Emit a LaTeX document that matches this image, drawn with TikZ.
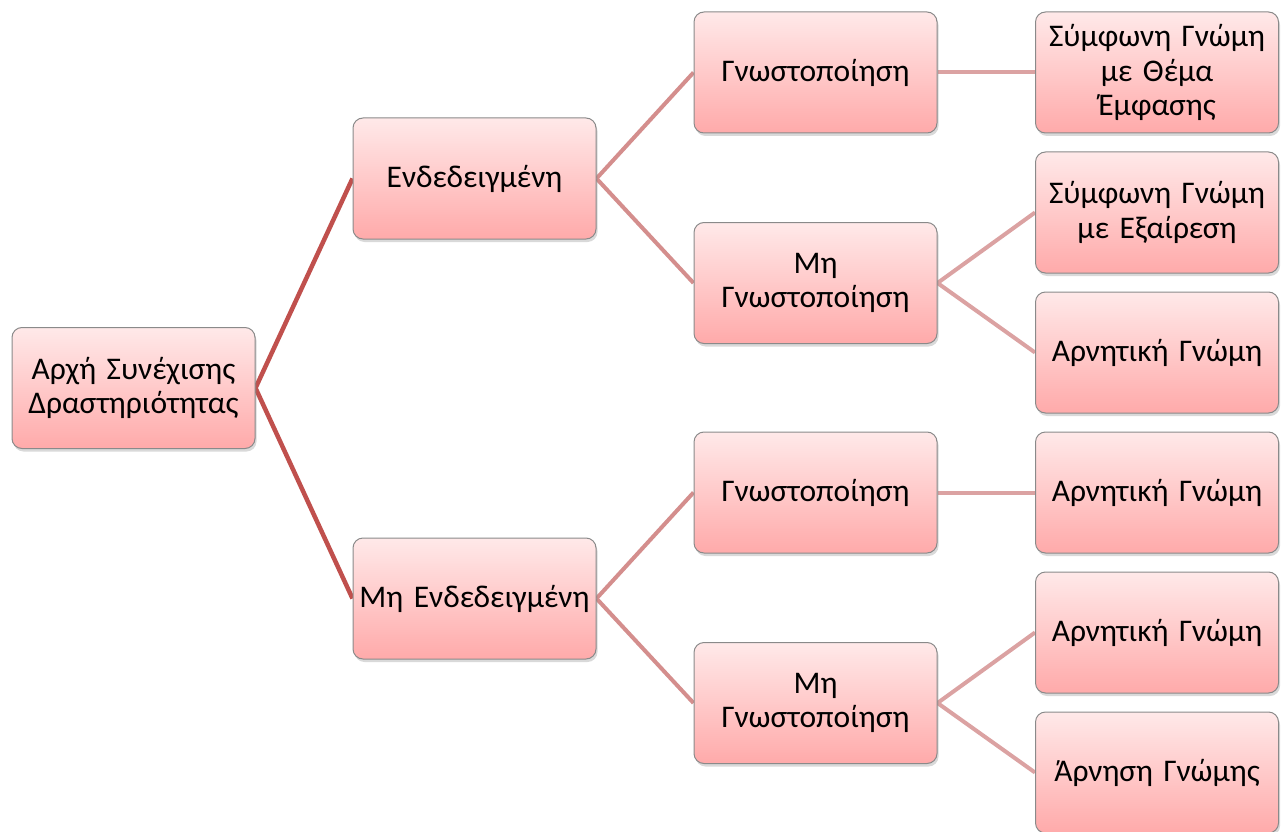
\documentclass[tikz,border=0pt]{standalone}
\usepackage{fontspec}
\setmainfont{Carlito}
\usetikzlibrary{shadows,backgrounds}
\definecolor{rootline}{HTML}{C0504D}
\definecolor{midline}{HTML}{D48E8D}
\definecolor{leafline}{HTML}{DBA2A2}
\definecolor{boxtop}{HTML}{FFE9E9}
\definecolor{boxbot}{HTML}{FFAAAA}
\definecolor{boxedge}{HTML}{8A8A8A}
\tikzset{
  card/.style={draw=boxedge, line width=1pt, rounded corners=10pt,
    top color=boxtop, bottom color=boxbot,
    minimum width=243pt, minimum height=121pt, inner sep=0pt,
    text width=238pt, align=center,
    font=\fontsize{31.5}{34.5}\selectfont,
    drop shadow={opacity=0.3, shadow xshift=1.5pt, shadow yshift=-3pt}},
  rootlink/.style={draw=rootline, line width=4.5pt},
  midlink/.style={draw=midline, line width=4pt},
  leaflink/.style={draw=leafline, line width=4pt}
}
\begin{document}
\begin{tikzpicture}[x=1pt,y=-1pt]
\useasboundingbox (0,0) rectangle (1285,832);
\clip (0,0) rectangle (1285,832);
% boxes
\node[card] (root) at (133.5,388) {Αρχή Συνέχισης\\Δραστηριότητας};
\node[card] (ind) at (474.5,178.5) {Ενδεδειγμένη};
\node[card] (nind) at (474.5,598.5) {Μη Ενδεδειγμένη};
\node[card] (g1) at (815.5,72.5) {Γνωστοποίηση};
\node[card] (ng1) at (815.5,283) {Μη\\Γνωστοποίηση};
\node[card] (g2) at (815.5,492.5) {Γνωστοποίηση};
\node[card] (ng2) at (815.5,703) {Μη\\Γνωστοποίηση};
\node[card] (l1) at (1157,72.5) {Σύμφωνη Γνώμη\\με Θέμα\\Έμφασης};
\node[card] (l2) at (1157,212.5) {Σύμφωνη Γνώμη\\με Εξαίρεση};
\node[card] (l3) at (1157,352.5) {Αρνητική Γνώμη};
\node[card] (l4) at (1157,492.5) {Αρνητική Γνώμη};
\node[card] (l5) at (1157,632.5) {Αρνητική Γνώμη};
\node[card] (l6) at (1157,772.5) {Άρνηση Γνώμης};
% connectors, kept behind the boxes
\begin{scope}[on background layer]
\draw[rootlink] (root.east) -- (ind.west);
\draw[rootlink] (root.east) -- (nind.west);
\draw[midlink] (ind.east) -- (g1.west);
\draw[midlink] (ind.east) -- (ng1.west);
\draw[midlink] (nind.east) -- (g2.west);
\draw[midlink] (nind.east) -- (ng2.west);
\draw[leaflink] (g1.east) -- (l1.west);
\draw[leaflink] (ng1.east) -- (l2.west);
\draw[leaflink] (ng1.east) -- (l3.west);
\draw[leaflink] (g2.east) -- (l4.west);
\draw[leaflink] (ng2.east) -- (l5.west);
\draw[leaflink] (ng2.east) -- (l6.west);
\end{scope}
\end{tikzpicture}
\end{document}
